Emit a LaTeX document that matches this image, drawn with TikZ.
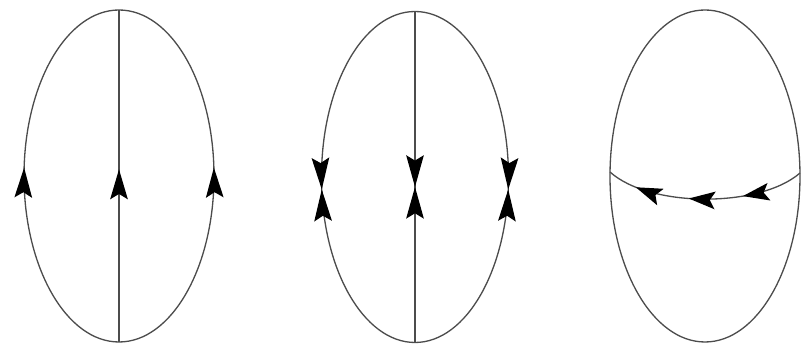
\documentclass[tikz,border=0pt]{standalone}
\usepackage{tikz}
\usetikzlibrary{arrows.meta,decorations.markings}
\tikzset{
  edge/.style={line width=0.75pt,black!70},
  arrowat/.style={postaction={decorate},decoration={markings,
    mark=at position #1 with {\arrow[black]{Stealth[length=17pt,width=10pt,inset=3pt]}}}},
  meetat/.style={postaction={decorate},decoration={markings,
    mark=at position #1 with {\arrow[black]{Stealth[length=18pt,width=10pt,inset=3pt]}
      \arrowreversed[black]{Stealth[length=18pt,width=10pt,inset=3pt]}}}},
  flowat/.style={postaction={decorate},decoration={markings,
    mark=between positions 0.31 and 0.86 step 0.27 with {\arrow[black]{Stealth[length=15pt,width=10pt,inset=3pt]}}}},
}
\begin{document}
\begin{tikzpicture}
  \useasboundingbox (0,0) rectangle (16.24,7.02);
  % three vertices-on-a-loop pictures
  \coordinate (c1) at (2.38,3.50);
  \coordinate (t1) at (2.38,6.82);
  \coordinate (b1) at (2.38,0.18);
  \coordinate (c2) at (8.30,3.48);
  \coordinate (t2) at (8.30,6.79);
  \coordinate (b2) at (8.30,0.17);
  \coordinate (c3) at (14.10,3.50);
  \coordinate (r3) at (16.00,3.56);
  \coordinate (l3) at (12.20,3.58);

  % all edges up
  \draw[edge,arrowat=0.52] (b1) arc[start angle=270,end angle=90,x radius=1.90,y radius=3.32];
  \draw[edge,arrowat=0.52] (b1) arc[start angle=-90,end angle=90,x radius=1.90,y radius=3.32];
  \draw[edge,arrowat=0.52] (b1) -- (t1);

  % edges meeting in the middle
  \draw[edge,meetat=0.53] (t2) arc[start angle=90,end angle=270,x radius=1.87,y radius=3.31];
  \draw[edge,meetat=0.53] (t2) arc[start angle=90,end angle=-90,x radius=1.87,y radius=3.31];
  \draw[edge,meetat=0.53] (t2) -- (b2);

  % loop with a crossing line
  \draw[edge] (c3) ellipse[x radius=1.90,y radius=3.32];
  \draw[edge,flowat] (r3) .. controls (15.20,2.86) and (13.00,2.86) .. (l3);
\end{tikzpicture}
\end{document}
